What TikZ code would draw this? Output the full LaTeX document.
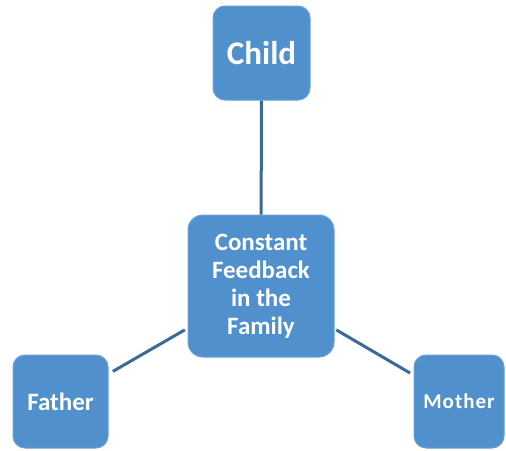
\documentclass[tikz,border=0pt]{standalone}
\usepackage{fontspec}
\setmainfont{Carlito}
\definecolor{boxfill}{RGB}{80,144,204}
\definecolor{boxedge}{RGB}{104,162,216}
\definecolor{linkcol}{RGB}{60,106,152}
\begin{document}
\begin{tikzpicture}[x=1pt,y=-1pt,
  famnode/.style={draw=boxedge, line width=1pt, fill=boxfill, rounded corners=12pt,
    text=white, font=\bfseries, align=center, inner sep=0pt},
  link/.style={draw=linkcol, line width=3pt}]
\useasboundingbox[fill=white] (0,0) rectangle (506,450);
\node[famnode, minimum width=97pt, minimum height=94pt, font=\bfseries\fontsize{33}{36}\selectfont] (child) at (261.5,53) {Child};
\node[famnode, minimum width=146pt, minimum height=142pt, rounded corners=15pt, font=\bfseries\fontsize{25}{28}\selectfont] (center) at (261,286) {Constant\\Feedback\\in the\\Family};
\node[famnode, minimum width=95pt, minimum height=93pt, font=\bfseries\fontsize{25}{28}\selectfont] (father) at (60.5,401.5) {Father};
\node[famnode, minimum width=90pt, minimum height=93pt, font=\bfseries\fontsize{21}{24}\selectfont] (mother) at (459,401.5) {M\kern1pt o\kern1pt t\kern1pt h\kern1pt e\kern1pt r};
\draw[link] (child) -- (center);
\draw[link, shorten <=3pt, shorten >=5pt] (center) -- (father);
\draw[link, shorten <=2pt, shorten >=4pt] (center) -- (mother);
\end{tikzpicture}
\end{document}
